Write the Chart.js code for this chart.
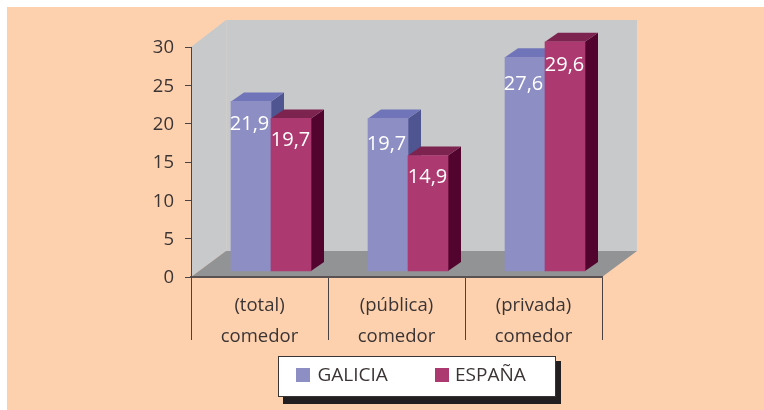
<!DOCTYPE html>
<html><head><meta charset="utf-8">
<style>html,body{margin:0;padding:0;background:#fff}#w{width:764px;height:410px;position:relative}</style>
<script src="https://cdn.jsdelivr.net/npm/chart.js@4/dist/chart.umd.min.js"></script>
</head><body><div id="w"><canvas id="c" width="764" height="410"></canvas></div>
<script>
const categories = [['(total)','comedor'],['(pública)','comedor'],['(privada)','comedor']];
const galicia = [21.9, 19.7, 27.6];
const espana = [19.7, 14.9, 29.6];
const seriesNames = ['GALICIA','ESPAÑA'];
const yTicks = [0,5,10,15,20,25,30];

const FONT = '"Open Sans", sans-serif';
const INK = '#3b3434';
const wallDepth = {dx:35, dy:-26};
const barDepth = {dx:13, dy:-9};
const barShift = {x:11.5, y:-6};
const shades = [
  {front:'#8c8ec4', top:'#7074b8', side:'#4f5590'},
  {front:'#ac3a70', top:'#7c2350', side:'#52042f'}
];
const labelLayout = {drop:[[23,26,27],[22,22,24]], nudge:[[-1.5,-1.5,-1.5],[-0.5,-0.5,-0.5]]};
const legendLayout = {swatchX:[296,435], textX:[317.5,455]};
const poly = (ctx, pts, fill) => {
  ctx.beginPath(); pts.forEach((p,i)=> i?ctx.lineTo(p[0],p[1]):ctx.moveTo(p[0],p[1]));
  ctx.closePath(); ctx.fillStyle = fill; ctx.fill();
};
const scene = {
  id:'scene',
  beforeDraw(chart){
    const {ctx, chartArea:a} = chart, d = wallDepth, wt = a.top+d.dy-1;
    ctx.save();
    ctx.fillStyle = '#fdd1ae'; ctx.fillRect(7,7,757,403);
    poly(ctx,[[a.left,a.top],[a.left+d.dx,wt],[a.left+d.dx,a.bottom+d.dy],[a.left,a.bottom]],'#c8c9cb');
    poly(ctx,[[a.left+d.dx,wt],[a.right+d.dx,wt],[a.right+d.dx,a.bottom+d.dy],[a.left+d.dx,a.bottom+d.dy]],'#c8c9cb');
    poly(ctx,[[a.left,a.bottom],[a.right,a.bottom],[a.right+d.dx,a.bottom+d.dy],[a.left+d.dx,a.bottom+d.dy]],'#929395');
    ctx.fillStyle='#d0ccc9'; ctx.fillRect(a.left+d.dx,wt,1,a.bottom-a.top);
    ctx.restore();
  },
  beforeDatasetsDraw(chart){
    const {ctx} = chart, d = barDepth;
    chart.data.datasets.forEach((ds,i)=>{
      const meta = chart.getDatasetMeta(i), s = shades[i];
      ctx.save();
      ctx.translate(barShift.x, barShift.y);
      meta.data.forEach(b=>{
        const l=b.x-b.width/2, r=b.x+b.width/2, t=b.y, bt=b.base;
        poly(ctx,[[r,t],[r+d.dx,t+d.dy],[r+d.dx,bt+d.dy],[r,bt]],s.side);
        poly(ctx,[[l,t],[l+d.dx,t+d.dy],[r+d.dx,t+d.dy],[r,t]],s.top);
      });
      meta.controller.draw();
      ctx.restore();
    });
  },
  beforeDatasetDraw(){ return false; },
  afterDatasetsDraw(chart){
    const {ctx} = chart;
    ctx.save();
    ctx.fillStyle='#fff'; ctx.font='20px '+FONT; ctx.textAlign='center'; ctx.textBaseline='middle';
    chart.data.datasets.forEach((ds,i)=>{
      chart.getDatasetMeta(i).data.forEach((b,j)=>{
        ctx.fillText(String(ds.data[j]).replace('.',','),
          b.x+barShift.x+labelLayout.nudge[i][j], b.y+barShift.y+labelLayout.drop[i][j]);
      });
    });
    ctx.restore();
  },
  afterDraw(chart){
    const {ctx} = chart;
    ctx.save();
    ctx.fillStyle='#231f20'; ctx.fillRect(283,361,278,43);
    ctx.fillStyle='#fff'; ctx.fillRect(279,356,277,41);
    ctx.strokeStyle='#3a3535'; ctx.lineWidth=1; ctx.strokeRect(278.5,356.5,277,40);
    ctx.font='19px '+FONT; ctx.textBaseline='middle'; ctx.textAlign='left';
    chart.data.datasets.forEach((ds,i)=>{
      ctx.fillStyle=ds.backgroundColor; ctx.fillRect(legendLayout.swatchX[i],368,14,14);
      ctx.fillStyle=INK; ctx.fillText(ds.label,legendLayout.textX[i],376);
    });
    ctx.restore();
  }
};
new Chart(document.getElementById('c'),{
  type:'bar',
  data:{labels:categories,datasets:[
    {label:seriesNames[0],data:galicia,backgroundColor:shades[0].front,yAxisID:'bars',barThickness:40},
    {label:seriesNames[1],data:espana,backgroundColor:shades[1].front,yAxisID:'bars',barThickness:40}
  ]},
  options:{
    responsive:false,animation:false,
    layout:{padding:{left:0,right:162,top:47,bottom:0}},
    plugins:{legend:{display:false},tooltip:{enabled:false}},
    scales:{
      x:{
        afterFit:s=>{s.height=133;},
        grid:{offset:true,drawOnChartArea:false,drawTicks:true,tickLength:63,color:'#4a4242',lineWidth:1},
        border:{color:'#5a5252',width:2},
        ticks:{color:INK,font:{family:FONT,size:18.5,lineHeight:1.72},padding:-50.5,maxRotation:0,autoSkip:false}
      },
      y:{
        min:0,max:30,
        afterFit:s=>{s.width=191;},
        afterBuildTicks:s=>{s.ticks=yTicks.map(v=>({value:v}));},
        grid:{drawOnChartArea:false,drawTicks:true,tickLength:6,color:'#4a4242',lineWidth:1},
        border:{color:'#4a4242',width:1},
        ticks:{color:INK,font:{family:FONT,size:18.5},padding:11,labelOffset:1}
      },
      bars:{display:false,min:0,max:29.7}
    }
  },
  plugins:[scene]
});
</script></body></html>
